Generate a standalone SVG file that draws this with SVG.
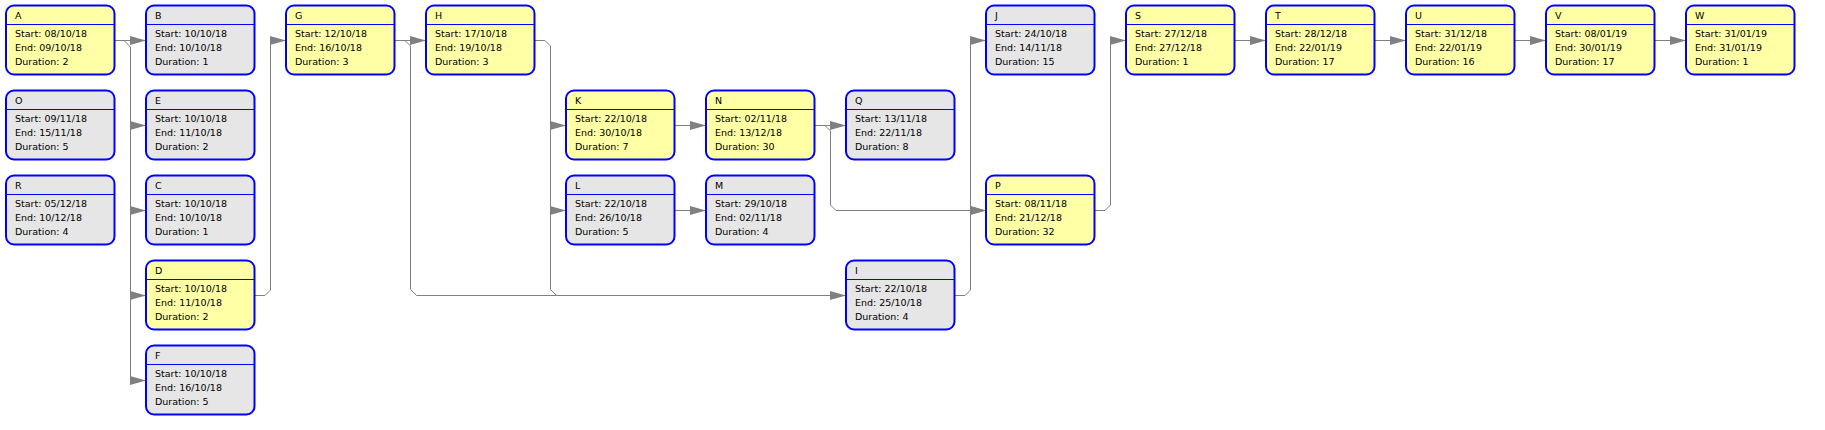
<svg xmlns="http://www.w3.org/2000/svg" width="1825" height="430" viewBox="0 0 1825 430">
<defs>
<style>
.box{stroke:#0000FF;stroke-width:2}
.y{fill:#FFFFA5}
.g{fill:#E6E6E6}
.hd{stroke:#0000FF;stroke-width:1}
text{font-family:"DejaVu Sans","Liberation Sans",sans-serif;font-size:9.5px;fill:#000}
.c path{fill:none;stroke:#808080;stroke-width:1}
</style>
<marker id="ar" markerUnits="userSpaceOnUse" markerWidth="16" markerHeight="9" refX="16" refY="4.5" orient="auto" viewBox="0 0 16 9">
<path d="M0,0 L16,4.5 L0,9 z" fill="#808080"/>
</marker>
<g id="tpl-y"><rect class="box y" x="0" y="0" width="108.5" height="69" rx="8"/><line class="hd" x1="0" y1="19" x2="108.5" y2="19"/></g>
<g id="tpl-g"><rect class="box g" x="0" y="0" width="108.5" height="69" rx="8"/><line class="hd" x1="0" y1="19" x2="108.5" y2="19"/></g>
</defs>
<rect width="1825" height="430" fill="#fff"/>
<g class="c" id="connectors">
<path d="M115,40.5 H146" marker-end="url(#ar)"/>
<path d="M124,40.5 L130.5,47 V380.5 H146" marker-end="url(#ar)"/>
<path d="M130.5,125.5 H146" marker-end="url(#ar)"/>
<path d="M130.5,210.5 H146" marker-end="url(#ar)"/>
<path d="M130.5,295.5 H146" marker-end="url(#ar)"/>
<path d="M255,295.5 H265 L270.5,290 V40.5 H286" marker-end="url(#ar)"/>
<path d="M395,40.5 H426" marker-end="url(#ar)"/>
<path d="M405,40.5 L410.5,46 V289.5 L416.5,295.5 H846" marker-end="url(#ar)"/>
<path d="M535,40.5 H545 L550.5,46 V289.5 L556.5,295.5"/>
<path d="M550.5,125.5 H566" marker-end="url(#ar)"/>
<path d="M550.5,210.5 H566" marker-end="url(#ar)"/>
<path d="M675,125.5 H706" marker-end="url(#ar)"/>
<path d="M675,210.5 H706" marker-end="url(#ar)"/>
<path d="M815,125.5 H846" marker-end="url(#ar)"/>
<path d="M825,125.5 L830.5,131 V205 L836,210.5 H986" marker-end="url(#ar)"/>
<path d="M955,295.5 H965 L970.5,290 V40.5 H986" marker-end="url(#ar)"/>
<path d="M970.5,210.5 H986" marker-end="url(#ar)"/>
<path d="M1095,210.5 H1105 L1110.5,205 V40.5 H1126" marker-end="url(#ar)"/>
<path d="M1235,40.5 H1266" marker-end="url(#ar)"/>
<path d="M1375,40.5 H1406" marker-end="url(#ar)"/>
<path d="M1515,40.5 H1546" marker-end="url(#ar)"/>
<path d="M1655,40.5 H1686" marker-end="url(#ar)"/>
</g>
<g id="node-A" transform="translate(6,5.5)"><use href="#tpl-y"/><text x="9" y="13.5">A</text><text x="9" y="31.2">Start: 08/10/18</text><text x="9" y="45.2">End: 09/10/18</text><text x="9" y="59.2">Duration: 2</text></g>
<g id="node-B" transform="translate(146,5.5)"><use href="#tpl-g"/><text x="9" y="13.5">B</text><text x="9" y="31.2">Start: 10/10/18</text><text x="9" y="45.2">End: 10/10/18</text><text x="9" y="59.2">Duration: 1</text></g>
<g id="node-G" transform="translate(286,5.5)"><use href="#tpl-y"/><text x="9" y="13.5">G</text><text x="9" y="31.2">Start: 12/10/18</text><text x="9" y="45.2">End: 16/10/18</text><text x="9" y="59.2">Duration: 3</text></g>
<g id="node-H" transform="translate(426,5.5)"><use href="#tpl-y"/><text x="9" y="13.5">H</text><text x="9" y="31.2">Start: 17/10/18</text><text x="9" y="45.2">End: 19/10/18</text><text x="9" y="59.2">Duration: 3</text></g>
<g id="node-J" transform="translate(986,5.5)"><use href="#tpl-g"/><text x="9" y="13.5">J</text><text x="9" y="31.2">Start: 24/10/18</text><text x="9" y="45.2">End: 14/11/18</text><text x="9" y="59.2">Duration: 15</text></g>
<g id="node-S" transform="translate(1126,5.5)"><use href="#tpl-y"/><text x="9" y="13.5">S</text><text x="9" y="31.2">Start: 27/12/18</text><text x="9" y="45.2">End: 27/12/18</text><text x="9" y="59.2">Duration: 1</text></g>
<g id="node-T" transform="translate(1266,5.5)"><use href="#tpl-y"/><text x="9" y="13.5">T</text><text x="9" y="31.2">Start: 28/12/18</text><text x="9" y="45.2">End: 22/01/19</text><text x="9" y="59.2">Duration: 17</text></g>
<g id="node-U" transform="translate(1406,5.5)"><use href="#tpl-y"/><text x="9" y="13.5">U</text><text x="9" y="31.2">Start: 31/12/18</text><text x="9" y="45.2">End: 22/01/19</text><text x="9" y="59.2">Duration: 16</text></g>
<g id="node-V" transform="translate(1546,5.5)"><use href="#tpl-y"/><text x="9" y="13.5">V</text><text x="9" y="31.2">Start: 08/01/19</text><text x="9" y="45.2">End: 30/01/19</text><text x="9" y="59.2">Duration: 17</text></g>
<g id="node-W" transform="translate(1686,5.5)"><use href="#tpl-y"/><text x="9" y="13.5">W</text><text x="9" y="31.2">Start: 31/01/19</text><text x="9" y="45.2">End: 31/01/19</text><text x="9" y="59.2">Duration: 1</text></g>
<g id="node-O" transform="translate(6,90.5)"><use href="#tpl-g"/><text x="9" y="13.5">O</text><text x="9" y="31.2">Start: 09/11/18</text><text x="9" y="45.2">End: 15/11/18</text><text x="9" y="59.2">Duration: 5</text></g>
<g id="node-E" transform="translate(146,90.5)"><use href="#tpl-g"/><text x="9" y="13.5">E</text><text x="9" y="31.2">Start: 10/10/18</text><text x="9" y="45.2">End: 11/10/18</text><text x="9" y="59.2">Duration: 2</text></g>
<g id="node-K" transform="translate(566,90.5)"><use href="#tpl-y"/><text x="9" y="13.5">K</text><text x="9" y="31.2">Start: 22/10/18</text><text x="9" y="45.2">End: 30/10/18</text><text x="9" y="59.2">Duration: 7</text></g>
<g id="node-N" transform="translate(706,90.5)"><use href="#tpl-y"/><text x="9" y="13.5">N</text><text x="9" y="31.2">Start: 02/11/18</text><text x="9" y="45.2">End: 13/12/18</text><text x="9" y="59.2">Duration: 30</text></g>
<g id="node-Q" transform="translate(846,90.5)"><use href="#tpl-g"/><text x="9" y="13.5">Q</text><text x="9" y="31.2">Start: 13/11/18</text><text x="9" y="45.2">End: 22/11/18</text><text x="9" y="59.2">Duration: 8</text></g>
<g id="node-R" transform="translate(6,175.5)"><use href="#tpl-g"/><text x="9" y="13.5">R</text><text x="9" y="31.2">Start: 05/12/18</text><text x="9" y="45.2">End: 10/12/18</text><text x="9" y="59.2">Duration: 4</text></g>
<g id="node-C" transform="translate(146,175.5)"><use href="#tpl-g"/><text x="9" y="13.5">C</text><text x="9" y="31.2">Start: 10/10/18</text><text x="9" y="45.2">End: 10/10/18</text><text x="9" y="59.2">Duration: 1</text></g>
<g id="node-L" transform="translate(566,175.5)"><use href="#tpl-g"/><text x="9" y="13.5">L</text><text x="9" y="31.2">Start: 22/10/18</text><text x="9" y="45.2">End: 26/10/18</text><text x="9" y="59.2">Duration: 5</text></g>
<g id="node-M" transform="translate(706,175.5)"><use href="#tpl-g"/><text x="9" y="13.5">M</text><text x="9" y="31.2">Start: 29/10/18</text><text x="9" y="45.2">End: 02/11/18</text><text x="9" y="59.2">Duration: 4</text></g>
<g id="node-P" transform="translate(986,175.5)"><use href="#tpl-y"/><text x="9" y="13.5">P</text><text x="9" y="31.2">Start: 08/11/18</text><text x="9" y="45.2">End: 21/12/18</text><text x="9" y="59.2">Duration: 32</text></g>
<g id="node-D" transform="translate(146,260.5)"><use href="#tpl-y"/><text x="9" y="13.5">D</text><text x="9" y="31.2">Start: 10/10/18</text><text x="9" y="45.2">End: 11/10/18</text><text x="9" y="59.2">Duration: 2</text></g>
<g id="node-I" transform="translate(846,260.5)"><use href="#tpl-g"/><text x="9" y="13.5">I</text><text x="9" y="31.2">Start: 22/10/18</text><text x="9" y="45.2">End: 25/10/18</text><text x="9" y="59.2">Duration: 4</text></g>
<g id="node-F" transform="translate(146,345.5)"><use href="#tpl-g"/><text x="9" y="13.5">F</text><text x="9" y="31.2">Start: 10/10/18</text><text x="9" y="45.2">End: 16/10/18</text><text x="9" y="59.2">Duration: 5</text></g>
</svg>
